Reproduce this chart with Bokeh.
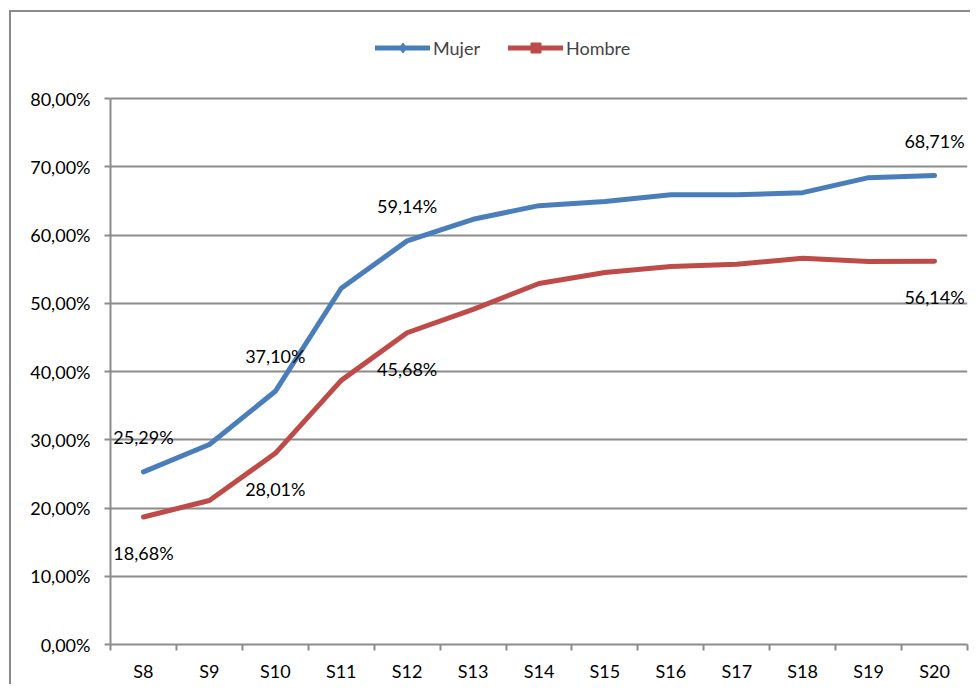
from bokeh.plotting import figure
from bokeh.models import Range1d, FixedTicker, Legend, LegendItem, ColumnDataSource
from bokeh.core.properties import value
from bokeh.embed import file_html
from bokeh.resources import INLINE

categories = ["S8", "S9", "S10", "S11", "S12", "S13", "S14", "S15", "S16", "S17", "S18", "S19", "S20"]
mujer = [25.29, 29.3, 37.10, 52.2, 59.14, 62.3, 64.3, 64.9, 65.9, 65.9, 66.2, 68.4, 68.71]
hombre = [18.68, 21.1, 28.01, 38.7, 45.68, 49.1, 52.9, 54.5, 55.4, 55.7, 56.6, 56.1, 56.14]
y_ticks = [0, 10, 20, 30, 40, 50, 60, 70, 80]
y_tick_labels = ["0,00%", "10,00%", "20,00%", "30,00%", "40,00%", "50,00%", "60,00%", "70,00%", "80,00%"]
labeled_idx = [0, 2, 4, 12]

FONT = "Lato"
FS = "18px"
GRID = "#8c8c8c"
BORDER = "#8a8a8a"
BLUE = "#4a7ebb"
RED = "#be4b48"

# layout in picture pixels
OX, OY = 11, 12            # canvas origin (after css margin + border)
W, H = 961, 674
FRAME_LEFT, FRAME_RIGHT = 110, 967
GRID_TOP, AXIS_Y = 98, 644
y_upper = y_ticks[-1] * (AXIS_Y - OY) / (AXIS_Y - GRID_TOP)

xs = list(range(len(categories)))

p = figure(width=W, height=H, output_backend="svg", toolbar_location=None,
           x_range=Range1d(-0.5, len(categories) - 0.5), y_range=Range1d(0, y_upper),
           min_border_left=FRAME_LEFT - OX, min_border_right=OX + W - FRAME_RIGHT,
           min_border_top=0, min_border_bottom=OY + H - AXIS_Y)
p.styles = {"margin-left": "9px", "margin-top": "10px", "margin-bottom": "-10px",
            "border-left": f"2px solid {BORDER}", "border-top": f"2px solid {BORDER}"}
p.outline_line_color = None
p.background_fill_color = "white"
p.border_fill_color = "white"

# axes
p.xaxis.ticker = FixedTicker(ticks=xs, minor_ticks=[i - 0.5 for i in range(len(categories) + 1)])
p.xaxis.major_label_overrides = {i: c for i, c in zip(xs, categories)}
p.xaxis.major_tick_line_color = None
p.xaxis.minor_tick_line_color = GRID
p.xaxis.minor_tick_line_width = 2
p.xaxis.minor_tick_out = 6
p.xaxis.minor_tick_in = 0
p.xaxis.major_label_standoff = 9
p.yaxis.ticker = FixedTicker(ticks=y_ticks)
p.yaxis.bounds = (y_ticks[0], y_ticks[-1])
p.yaxis.major_label_overrides = {t: l for t, l in zip(y_ticks, y_tick_labels)}
p.yaxis.major_tick_out = 6
p.yaxis.major_tick_in = 0
p.yaxis.major_tick_line_color = GRID
p.yaxis.major_tick_line_width = 2
p.yaxis.minor_tick_line_color = None
p.yaxis.major_label_standoff = 14
for ax in (p.xaxis, p.yaxis):
    ax.axis_line_color = GRID
    ax.axis_line_width = 2
    ax.major_label_text_font = FONT
    ax.major_label_text_font_size = FS
    ax.major_label_text_color = "black"

p.xgrid.visible = False
p.ygrid.ticker = FixedTicker(ticks=y_ticks)
p.ygrid.grid_line_color = GRID
p.ygrid.grid_line_width = 2

# markers (hidden on the plot, shown in the legend) and lines
mm = p.scatter(xs, mujer, marker="diamond", size=0, fill_color=BLUE, line_color=BLUE)
mh = p.scatter(xs, hombre, marker="square", size=0, fill_color=RED, line_color=RED)
lm = p.line(xs, mujer, line_color=BLUE, line_width=5, line_join="round", line_cap="round")
lh = p.line(xs, hombre, line_color=RED, line_width=5, line_join="round", line_cap="round")

def fmt(v):
    return f"{v:.2f}".replace(".", ",") + "%"

src_m = ColumnDataSource(dict(x=[xs[i] for i in labeled_idx], y=[mujer[i] for i in labeled_idx],
                              t=[fmt(mujer[i]) for i in labeled_idx]))
src_h = ColumnDataSource(dict(x=[xs[i] for i in labeled_idx], y=[hombre[i] for i in labeled_idx],
                              t=[fmt(hombre[i]) for i in labeled_idx]))
p.text(x="x", y="y", text="t", source=src_m, y_offset=-35, text_align="center", text_baseline="middle",
       text_font=value(FONT), text_font_size=FS, text_color="black")
p.text(x="x", y="y", text="t", source=src_h, y_offset=36, text_align="center", text_baseline="middle",
       text_font=value(FONT), text_font_size=FS, text_color="black")

legend = Legend(items=[LegendItem(label="Mujer", renderers=[lm, mm]),
                       LegendItem(label="Hombre", renderers=[lh, mh])],
                orientation="horizontal", location=(375 - FRAME_LEFT, AXIS_Y - 60), padding=0, margin=0,
                glyph_width=55, glyph_height=25, label_standoff=3, spacing=28,
                label_text_font=FONT, label_text_font_size=FS, label_text_baseline="middle",
                border_line_color=None, background_fill_alpha=0)
p.add_layout(legend, "center")

open("out.html", "w").write(file_html(p, INLINE))
